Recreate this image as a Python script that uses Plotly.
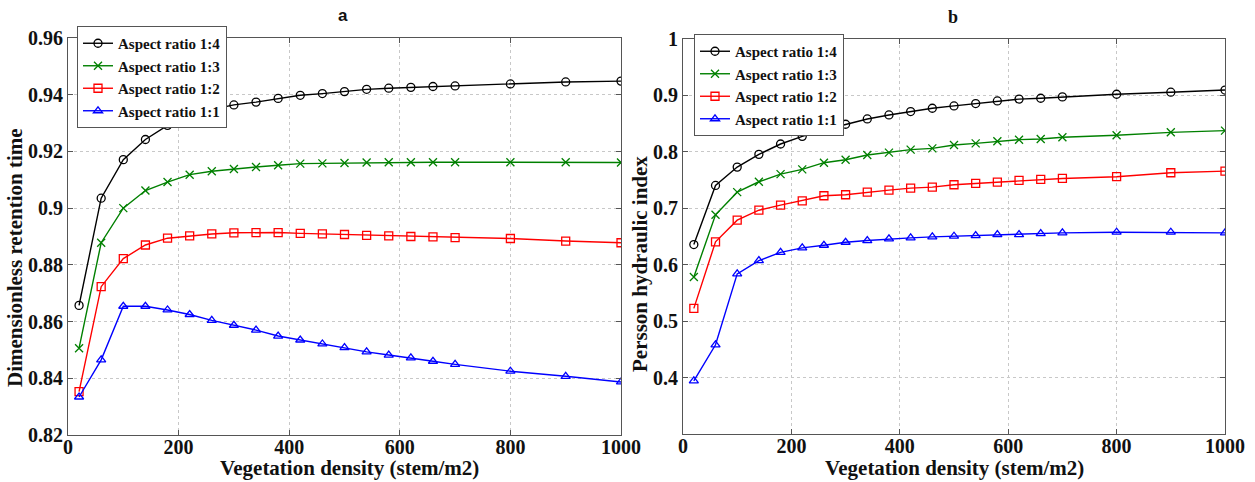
import plotly.graph_objects as go

density = [20, 60, 100, 140, 180, 220, 260, 300, 340, 380, 420, 460, 500, 540, 580, 620, 660, 700, 800, 900, 1000]

series_names = ["Aspect ratio 1:4", "Aspect ratio 1:3", "Aspect ratio 1:2", "Aspect ratio 1:1"]

# panel a: Dimensionless retention time
ret_14 = [0.8657, 0.9035, 0.9171, 0.9242, 0.9292, 0.9323, 0.9348, 0.9364, 0.9374, 0.9387, 0.9398,
          0.9404, 0.9411, 0.9419, 0.9423, 0.9426, 0.9429, 0.9431, 0.9438, 0.9445, 0.9448]
ret_13 = [0.8506, 0.8878, 0.9000, 0.9062, 0.9092, 0.9118, 0.9130, 0.9138, 0.9145, 0.9151, 0.9157,
          0.9158, 0.9159, 0.9161, 0.9162, 0.9162, 0.9162, 0.9162, 0.9162, 0.9162, 0.9161]
ret_12 = [0.8353, 0.8723, 0.8822, 0.8870, 0.8894, 0.8902, 0.8909, 0.8913, 0.8914, 0.8914, 0.8911,
          0.8909, 0.8907, 0.8904, 0.8902, 0.8900, 0.8899, 0.8896, 0.8893, 0.8884, 0.8878]
ret_11 = [0.8334, 0.8465, 0.8654, 0.8654, 0.8641, 0.8625, 0.8604, 0.8587, 0.8570, 0.8549, 0.8535,
          0.8521, 0.8508, 0.8493, 0.8482, 0.8472, 0.8460, 0.8449, 0.8425, 0.8407, 0.8387]

# panel b: Persson hydraulic index
phi_14 = [0.6357, 0.7405, 0.7730, 0.7956, 0.8139, 0.8275, 0.8387, 0.8489, 0.8583, 0.8654, 0.8714,
          0.8773, 0.8814, 0.8856, 0.8902, 0.8935, 0.8950, 0.8974, 0.9021, 0.9057, 0.9095]
phi_13 = [0.5783, 0.6884, 0.7286, 0.7470, 0.7606, 0.7689, 0.7808, 0.7861, 0.7944, 0.7986, 0.8039,
          0.8062, 0.8121, 0.8151, 0.8187, 0.8216, 0.8228, 0.8258, 0.8293, 0.8346, 0.8376]
phi_12 = [0.5226, 0.6405, 0.6789, 0.6966, 0.7055, 0.7133, 0.7222, 0.7240, 0.7286, 0.7322, 0.7357,
          0.7375, 0.7417, 0.7440, 0.7464, 0.7494, 0.7512, 0.7529, 0.7560, 0.7630, 0.7659]
phi_11 = [0.3941, 0.4581, 0.5837, 0.6073, 0.6220, 0.6298, 0.6345, 0.6398, 0.6428, 0.6458, 0.6476,
          0.6494, 0.6505, 0.6517, 0.6535, 0.6535, 0.6552, 0.6564, 0.6576, 0.6576, 0.6564]

x_ticks = [0, 200, 400, 600, 800, 1000]
ya_ticks = [0.82, 0.84, 0.86, 0.88, 0.9, 0.92, 0.94, 0.96]
ya_labels = ["0.82", "0.84", "0.86", "0.88", "0.9", "0.92", "0.94", "0.96"]
yb_ticks = [0.4, 0.5, 0.6, 0.7, 0.8, 0.9, 1.0]
yb_labels = ["0.4", "0.5", "0.6", "0.7", "0.8", "0.9", "1"]

colors = ["#000000", "#008000", "#ff0000", "#0000ff"]
symbols = ["circle-open", "x-thin-open", "square-open", "triangle-up-open"]

SERIF = "Liberation Serif, Times New Roman, serif"
W, H = 1255, 482

fig = go.Figure()

for name, ys, c, s in zip(series_names, [ret_14, ret_13, ret_12, ret_11], colors, symbols):
    fig.add_trace(go.Scatter(x=density, y=ys, name=name, mode="lines+markers",
                             line=dict(color=c, width=1.4),
                             marker=dict(symbol=s, size=8, color=c, line=dict(color=c, width=1.3)),
                             xaxis="x", yaxis="y", legend="legend"))
for name, ys, c, s in zip(series_names, [phi_14, phi_13, phi_12, phi_11], colors, symbols):
    fig.add_trace(go.Scatter(x=density, y=ys, name=name, mode="lines+markers",
                             line=dict(color=c, width=1.4),
                             marker=dict(symbol=s, size=8, color=c, line=dict(color=c, width=1.3)),
                             xaxis="x2", yaxis="y2", legend="legend2"))

tick_font = dict(family=SERIF, size=20, color="#111", weight="bold")
title_font = dict(family=SERIF, size=21, color="#111", weight="bold")

common_axis = dict(showline=True, linecolor="#555", linewidth=1, mirror="ticks",
                   ticks="inside", ticklen=5, tickcolor="#555",
                   showgrid=True, gridcolor="#c8c8c8", griddash="dot", gridwidth=1,
                   zeroline=False, tickfont=tick_font, automargin=False)


def label(text, x, y, font, angle=0):
    return dict(text=text, x=x / W, y=1 - y / H, xref="paper", yref="paper", showarrow=False,
                xanchor="center", yanchor="middle", textangle=angle, font=font)


fig.update_layout(
    template="none",
    width=W, height=H,
    margin=dict(l=0, r=0, t=0, b=0, autoexpand=False),
    paper_bgcolor="white", plot_bgcolor="white",
    xaxis=dict(domain=[68/W, 621/W], range=[0, 1000], tickvals=x_ticks, anchor="y",
               ticklabelstandoff=-6, **common_axis),
    yaxis=dict(domain=[1-435/H, 1-38/H], range=[0.82, 0.96], tickvals=ya_ticks, ticktext=ya_labels,
               anchor="x", **common_axis),
    xaxis2=dict(domain=[683/W, 1225/W], range=[0, 1000], tickvals=x_ticks, anchor="y2",
                ticklabelstandoff=-6, **common_axis),
    yaxis2=dict(domain=[1-434/H, 1-39/H], range=[0.3, 1.0], tickvals=yb_ticks, ticktext=yb_labels,
                anchor="x2", **common_axis),
    legend=dict(x=77/W, y=1-26/H, xanchor="left", yanchor="top",
                bgcolor="white", bordercolor="#555", borderwidth=1,
                font=dict(family=SERIF, size=15, color="#111", weight="bold"),
                tracegroupgap=0, itemwidth=30),
    legend2=dict(x=694/W, y=1-34/H, xanchor="left", yanchor="top",
                 bgcolor="white", bordercolor="#555", borderwidth=1,
                 font=dict(family=SERIF, size=15, color="#111", weight="bold"),
                 tracegroupgap=0, itemwidth=30),
    annotations=[
        label("a", 343, 15, dict(family="Liberation Sans, Arial, sans-serif", size=17, color="#111", weight="bold")),
        label("b", 953, 17, dict(family=SERIF, size=18, color="#111", weight="bold")),
        label("Vegetation density (stem/m2)", 350, 468, title_font),
        label("Vegetation density (stem/m2)", 954, 468, title_font),
        label("Dimensionless retention time", 15, 258, title_font, -90),
        label("Persson hydraulic index", 640, 264, title_font, -90),
    ],
    showlegend=True,
)

fig.write_html("out.html")
